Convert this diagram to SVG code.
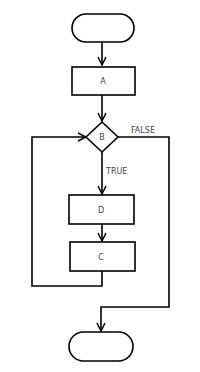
<svg xmlns="http://www.w3.org/2000/svg" width="200" height="372" viewBox="0 0 200 372">
<defs>
<marker id="arr" viewBox="0 0 10 10" refX="9" refY="5" markerWidth="10" markerHeight="10" markerUnits="userSpaceOnUse" orient="auto">
<path d="M1,1 L9,5 L1,9" fill="none" stroke="#000" stroke-width="1.5"/>
</marker>
<style>
.s{fill:#fff;stroke:#000;stroke-width:1.6}
.c{fill:none;stroke:#000;stroke-width:1.6}
.t{font-family:"DejaVu Sans",sans-serif;font-size:8px;fill:#444;text-anchor:middle}
.l{font-family:"DejaVu Sans",sans-serif;font-size:8px;fill:#444}
</style>
</defs>
<rect width="200" height="372" fill="#fff"/>
<g id="connectors">
<path class="c" d="M102,42 V65" marker-end="url(#arr)"/>
<path class="c" d="M102,95 V121" marker-end="url(#arr)"/>
<path class="c" d="M102,152 V194" marker-end="url(#arr)"/>
<path class="c" d="M102,224 V241" marker-end="url(#arr)"/>
<path class="c" d="M102,271 V286 H32 V137 H86" marker-end="url(#arr)"/>
<path class="c" d="M118,137 H169 V307 H101 V331" marker-end="url(#arr)"/>
<text class="l" x="131" y="133">FALSE</text>
<text class="l" x="106" y="174">TRUE</text>
</g>
<g id="start"><rect class="s" x="72" y="14" width="62" height="28" rx="14"/></g>
<g id="A"><rect class="s" x="72" y="67" width="63" height="28"/><text class="t" x="103" y="84">A</text></g>
<g id="B"><path class="s" d="M102,122 L118,137 L102,152 L86,137 Z"/><text class="t" x="102" y="140">B</text></g>
<g id="D"><rect class="s" x="69" y="195" width="65" height="29"/><text class="t" x="101" y="213">D</text></g>
<g id="C"><rect class="s" x="70" y="242" width="65" height="29"/><text class="t" x="101" y="260">C</text></g>
<g id="end"><rect class="s" x="69" y="332" width="64" height="29" rx="14.5"/></g>
</svg>
